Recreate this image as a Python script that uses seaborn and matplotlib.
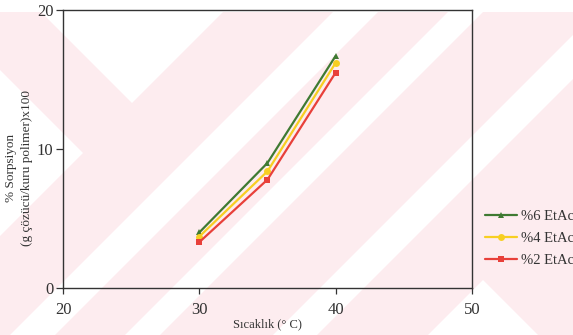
import matplotlib
matplotlib.use("Agg")
import matplotlib.pyplot as plt
from matplotlib.patches import Polygon, Rectangle
from matplotlib.lines import Line2D
import seaborn as sns
import pandas as pd

# Sorption data: temperature (°C) vs % sorption for three ethyl acetate levels
temperature = [30, 35, 40]
series_names = ["%6 EtAc", "%4 EtAc", "%2 EtAc"]
sorption_6 = [4.0, 9.0, 16.7]
sorption_4 = [3.7, 8.4, 16.2]
sorption_2 = [3.3, 7.8, 15.5]

x_ticks = [20, 30, 40, 50]
y_ticks = [0, 10, 20]

colors = {"%6 EtAc": "#3f7a32", "%4 EtAc": "#f7cf22", "%2 EtAc": "#e8403a"}
markers = {"%6 EtAc": "^", "%4 EtAc": "o", "%2 EtAc": "s"}

df = pd.DataFrame({
    "T": temperature * 3,
    "S": sorption_6 + sorption_4 + sorption_2,
    "seri": [n for n in series_names for _ in temperature],
})

sns.set_style("ticks")
plt.rcParams["font.family"] = ["Liberation Serif", "DejaVu Serif"]

W, H = 573, 335
fig = plt.figure(figsize=(W / 100, H / 100), dpi=100, facecolor="white")

# page background pattern, drawn in pixel coordinates
bg = fig.add_axes([0, 0, 1, 1], zorder=-5)
bg.set_xlim(0, W)
bg.set_ylim(H, 0)
bg.axis("off")
pink = "#fdecef"
bg.add_patch(Rectangle((0, 12), W, H - 12, color=pink, lw=0))
for a, b in [(345, 390), (460, 495), (608, 652)]:
    bg.add_patch(Polygon([(a - 12, 12), (b - 12, 12), (b - H, H), (a - H, H)],
                         closed=True, color="white", lw=0))
bg.add_patch(Polygon([(41, 12), (223, 12), (132, 103)], color="white", lw=0))
bg.add_patch(Polygon([(0, 70), (83, 153), (0, 236)], color="white", lw=0))
bg.add_patch(Polygon([(483, 280), (428, 335), (538, 335)], color="white", lw=0))

ax = fig.add_axes([63 / W, 1 - 288 / H, (472 - 63) / W, (288 - 10) / H])
ax.set_facecolor("none")

sns.lineplot(data=df, x="T", y="S", hue="seri", style="seri",
             palette=colors, markers=markers, dashes=False,
             markersize=5, markeredgewidth=0, linewidth=1.6,
             legend=False, ax=ax)

ax.set_xlim(20, 50)
ax.set_ylim(0, 20)
ax.set_xticks(x_ticks)
ax.set_yticks(y_ticks)
ax.tick_params(axis="both", labelsize=12, colors="#333333", width=0.9,
               direction="out")
ax.tick_params(axis="x", length=4, pad=6)
ax.tick_params(axis="y", length=5, pad=2)
for s in ax.spines.values():
    s.set_visible(True)
    s.set_color("#333333")
    s.set_linewidth(1.0)
ax.set_xlabel("")
ax.set_ylabel("")

fig.text(267 / W, 1 - 324 / H, "Sıcaklık (° C)", ha="center", va="center",
         fontsize=9, color="#333333")
fig.text(19 / W, 1 - 168 / H, "% Sorpsiyon\n(g çözücü/kuru polimer)x100",
         ha="center", va="center", rotation=90, fontsize=9.5,
         multialignment="center", color="#333333", linespacing=1.35)

handles = [Line2D([0], [0], color=colors[n], marker=markers[n], markersize=5,
                  markeredgewidth=0, linewidth=1.6) for n in series_names]
fig.legend(handles, series_names, loc="upper left",
           bbox_to_anchor=(485 / W, 1 - 210 / H), frameon=False,
           fontsize=10.5, handlelength=2.2, handletextpad=0.25,
           labelspacing=0.6, borderaxespad=0, borderpad=0,
           labelcolor="#333333")

fig.savefig("out.png", dpi=100, facecolor="white")
